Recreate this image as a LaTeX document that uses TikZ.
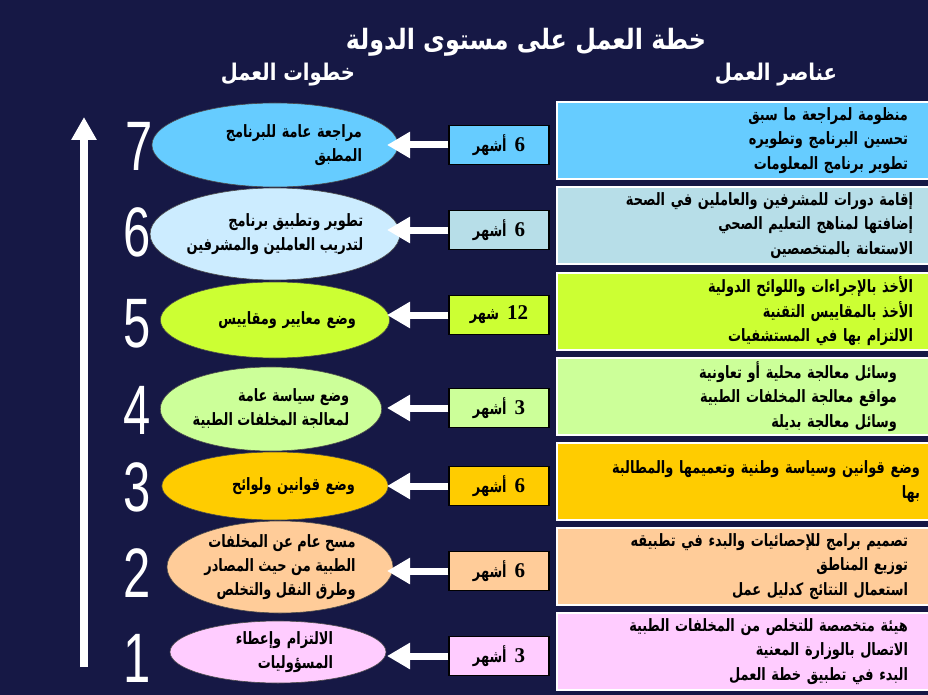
\documentclass[tikz,border=0pt]{standalone}
\usepackage{fontspec}
\usepackage{tikz}
\usetikzlibrary{arrows.meta, shapes.geometric}
\TeXXeTstate=1
\newfontfamily\arabicfont[Script=Arabic, FakeStretch=0.76]{DejaVu Sans}
\newfontfamily\titlefont[Script=Arabic, FakeStretch=0.85]{DejaVu Sans}
\newfontfamily\digitfont{Liberation Sans}
\newfontfamily\timesfont{Liberation Serif}
\newcommand{\artxt}[1]{\beginR #1\endR}
\definecolor{bgnavy}{HTML}{161845}
\definecolor{stepblue}{HTML}{66CCFF}
\definecolor{steppale}{HTML}{CCECFF}
\definecolor{stepteal}{HTML}{B7DEE8}
\definecolor{steplime}{HTML}{CCFF33}
\definecolor{stepmint}{HTML}{CCFF99}
\definecolor{stepgold}{HTML}{FFCC00}
\definecolor{steppeach}{HTML}{FFCC99}
\definecolor{steppink}{HTML}{FFCCFF}

\begin{document}
\begin{tikzpicture}[x=1pt, y=-1pt,
    stepell/.style={ellipse, draw=black!70, line width=0.6pt, inner sep=0pt, align=right,
                    font=\arabicfont\bfseries\fontsize{17}{24}\selectfont},
    durbox/.style={rectangle, draw=black, line width=1.2pt, minimum width=100pt, minimum height=39pt,
                   inner sep=0pt, font=\bfseries\fontsize{21}{21}\selectfont},
    elembox/.style={rectangle, draw=white, line width=1.2pt, minimum width=378pt, minimum height=77pt,
                    text width=324pt, inner sep=0pt, align=right,
                    font=\arabicfont\bfseries\fontsize{17}{24.5}\selectfont},
    numlbl/.style={text=white, inner sep=0pt, font=\digitfont\fontsize{70}{70}\selectfont},
    headtxt/.style={text=white, inner sep=0pt, font=\titlefont\bfseries\fontsize{23}{23}\selectfont},
    arrow/.style={white, line width=7pt, -{Triangle[length=23pt, width=25pt]}},
    uparrow/.style={white, line width=8pt, -{Triangle[length=23pt, width=24pt]}}
  ]
    \fill[bgnavy] (0,0) rectangle (928,695);
    \useasboundingbox (0,0) rectangle (928,695);

    % titles
    \node[headtxt, font=\titlefont\bfseries\fontsize{28}{28}\selectfont] (title) at (526,42) {\artxt{خطة العمل على مستوى الدولة}};
    \node[headtxt] (stepshead) at (288,75) {\artxt{خطوات العمل}};
    \node[headtxt] (elemhead)  at (776,75) {\artxt{عناصر العمل}};

    % rising arrow and step numbers
    \coordinate (upbot) at (84,667);
    \coordinate (uptop) at (84,117);
    \draw[uparrow] (upbot) -- (uptop);
    \node[numlbl] (n7) at (139,146) {\scalebox{0.7}[1]{7}};
    \node[numlbl] (n6) at (137,232) {\scalebox{0.7}[1]{6}};
    \node[numlbl] (n5) at (137,324) {\scalebox{0.7}[1]{5}};
    \node[numlbl] (n4) at (137,410) {\scalebox{0.7}[1]{4}};
    \node[numlbl] (n3) at (137,487) {\scalebox{0.7}[1]{3}};
    \node[numlbl] (n2) at (137,573) {\scalebox{0.7}[1]{2}};
    \node[numlbl] (n1) at (137,658) {\scalebox{0.7}[1]{1}};

    % steps
    \node[stepell, fill=stepblue, minimum width=226pt, minimum height=84pt, text width=174pt] (s7) at (275,145)
      {\artxt{مراجعة عامة للبرنامج}\\\artxt{المطبق}};
    \node[stepell, fill=steppale, minimum width=210pt, minimum height=92pt] (s6) at (275,234)
      {\artxt{تطوير وتطبيق برنامج}\\\artxt{لتدريب العاملين والمشرفين}};
    \node[stepell, fill=steplime, minimum width=226pt, minimum height=76pt, text width=162pt] (s5) at (275,320)
      {\artxt{وضع معايير ومقاييس}};
    \node[stepell, fill=stepmint, minimum width=218pt, minimum height=84pt] (s4) at (271,409)
      {\artxt{وضع  سياسة عامة}\\\artxt{لمعالجة المخلفات الطبية}};
    \node[stepell, fill=stepgold, minimum width=226pt, minimum height=68pt, text width=160pt] (s3) at (275,486)
      {\artxt{وضع قوانين ولوائح}};
    \node[stepell, fill=steppeach, minimum width=226pt, minimum height=92pt] (s2) at (280,567)
      {\artxt{مسح عام عن المخلفات}\\\artxt{الطبية من حيث المصادر}\\\artxt{وطرق النقل والتخلص}};
    \node[stepell, fill=steppink, minimum width=216pt, minimum height=62pt, text width=110pt] (s1) at (278,652)
      {\artxt{الالتزام وإعطاء}\\\artxt{المسؤوليات}};

    % durations
    \node[durbox, fill=stepblue]  (d7) at (499,145) {\artxt{{\timesfont 6} {\arabicfont\fontsize{17}{17}\selectfont أشهر}}};
    \node[durbox, fill=stepteal]  (d6) at (499,230) {\artxt{{\timesfont 6} {\arabicfont\fontsize{17}{17}\selectfont أشهر}}};
    \node[durbox, fill=steplime]  (d5) at (499,315) {\artxt{{\timesfont\beginL 12\endL} {\arabicfont\fontsize{17}{17}\selectfont شهر}}};
    \node[durbox, fill=stepmint]  (d4) at (499,408) {\artxt{{\timesfont 3} {\arabicfont\fontsize{17}{17}\selectfont أشهر}}};
    \node[durbox, fill=stepgold]  (d3) at (499,486) {\artxt{{\timesfont 6} {\arabicfont\fontsize{17}{17}\selectfont أشهر}}};
    \node[durbox, fill=steppeach] (d2) at (499,571) {\artxt{{\timesfont 6} {\arabicfont\fontsize{17}{17}\selectfont أشهر}}};
    \node[durbox, fill=steppink]  (d1) at (499,656) {\artxt{{\timesfont 3} {\arabicfont\fontsize{17}{17}\selectfont أشهر}}};

    \coordinate (tipx) at (387,0);
    \draw[arrow] (d7.west) -- (d7.west -| tipx);
    \draw[arrow] (d6.west) -- (d6.west -| tipx);
    \draw[arrow] (d5.west) -- (d5.west -| tipx);
    \draw[arrow] (d4.west) -- (d4.west -| tipx);
    \draw[arrow] (d3.west) -- (d3.west -| tipx);
    \draw[arrow] (d2.west) -- (d2.west -| tipx);
    \draw[arrow] (d1.west) -- (d1.west -| tipx);

    % elements
    \node[elembox, fill=stepblue] (e7) at (746,140.5)
      {\artxt{منظومة لمراجعة ما سبق}\\\artxt{تحسين البرنامج وتطويره}\\\artxt{تطوير برنامج المعلومات}};
    \node[elembox, fill=stepteal, text width=334pt] (e6) at (746,225.5)
      {\artxt{إقامة دورات للمشرفين والعاملين في الصحة}\\\artxt{إضافتها لمناهج التعليم الصحي}\\\artxt{الاستعانة بالمتخصصين}};
    \node[elembox, fill=steplime, text width=334pt] (e5) at (746,311.5)
      {\artxt{الأخذ بالإجراءات واللوائح الدولية}\\\artxt{الأخذ بالمقاييس التقنية}\\\artxt{الالتزام بها في المستشفيات}};
    \node[elembox, fill=stepmint, text width=302pt] (e4) at (746,396.5)
      {\artxt{وسائل معالجة محلية أو تعاونية}\\\artxt{مواقع معالجة المخلفات الطبية}\\\artxt{وسائل معالجة بديلة}};
    \node[elembox, fill=stepgold, text width=348pt] (e3) at (746,481.5)
      {\artxt{وضع قوانين وسياسة وطنية وتعميمها والمطالبة}\\\artxt{بها}};
    \node[elembox, fill=steppeach] (e2) at (746,566.5)
      {\artxt{تصميم برامج للإحصائيات والبدء في تطبيقه}\\\artxt{توزيع المناطق}\\\artxt{استعمال النتائج كدليل عمل}};
    \node[elembox, fill=steppink] (e1) at (746,651.5)
      {\artxt{هيئة متخصصة للتخلص من المخلفات الطبية}\\\artxt{الاتصال بالوزارة المعنية}\\\artxt{البدء في تطبيق خطة العمل}};
  \end{tikzpicture}
\end{document}
